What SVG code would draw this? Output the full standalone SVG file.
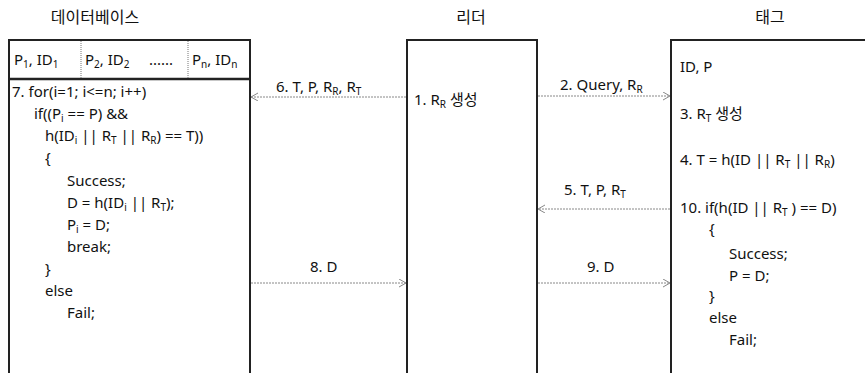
<svg xmlns="http://www.w3.org/2000/svg" width="865" height="373" viewBox="0 0 865 373">
<style>
text{font-family:"Noto Sans","Noto Sans CJK KR",sans-serif;font-size:15px;fill:#111}
.t{font-size:16px}
.box{fill:none;stroke:#222;stroke-width:2}
.sep{stroke:#777;stroke-width:1;stroke-dasharray:1 1}
.conn{stroke:#888;stroke-width:1;stroke-dasharray:2 1;fill:none;marker-end:url(#ah)}
.s{font-size:10px}
</style>
<defs>
<marker id="ah" markerWidth="9" markerHeight="9" refX="8" refY="4" orient="auto" markerUnits="userSpaceOnUse">
<path d="M1,0 L8,4 L1,8" fill="none" stroke="#888" stroke-width="1"/>
</marker>
</defs>
<rect width="865" height="373" fill="#fff"/>
<g id="db">
<text class="t" x="95" y="23" text-anchor="middle">데이터베이스</text>
<path class="box" d="M9,373 V40 H250 V373"/>
<line x1="9" y1="79" x2="250" y2="79" stroke="#222" stroke-width="2.5"/>
<line class="sep" x1="81" y1="41" x2="81" y2="78"/>
<line class="sep" x1="188" y1="41" x2="188" y2="78"/>
<text x="14" y="65">P<tspan class="s" dy="3">1</tspan><tspan dy="-3">, ID</tspan><tspan class="s" dy="3">1</tspan></text>
<text x="85" y="65">P<tspan class="s" dy="3">2</tspan><tspan dy="-3">, ID</tspan><tspan class="s" dy="3">2</tspan></text>
<text x="149" y="65">......</text>
<text x="192" y="65">P<tspan class="s" dy="3">n</tspan><tspan dy="-3">, ID</tspan><tspan class="s" dy="3">n</tspan></text>
<text x="12" y="97">7. for(i=1; i&lt;=n; i++)</text>
<text x="34" y="119">if((P<tspan class="s" dy="3">i</tspan><tspan dy="-3"> == P) &amp;&amp;</tspan></text>
<text x="45" y="141">h(ID<tspan class="s" dy="3">i</tspan><tspan dy="-3"> || R</tspan><tspan class="s" dy="3">T</tspan><tspan dy="-3"> || R</tspan><tspan class="s" dy="3">R</tspan><tspan dy="-3">) == T))</tspan></text>
<text x="45" y="163">{</text>
<text x="67" y="186">Success;</text>
<text x="67" y="208">D = h(ID<tspan class="s" dy="3">i</tspan><tspan dy="-3"> || R</tspan><tspan class="s" dy="3">T</tspan><tspan dy="-3">);</tspan></text>
<text x="67" y="230">P<tspan class="s" dy="3">i</tspan><tspan dy="-3"> = D;</tspan></text>
<text x="67" y="252">break;</text>
<text x="45" y="274">}</text>
<text x="45" y="296">else</text>
<text x="67" y="318">Fail;</text>
</g>
<g id="reader">
<text class="t" x="471" y="23" text-anchor="middle">리더</text>
<path class="box" d="M407,373 V40 H537 V373"/>
<text x="414" y="105">1. R<tspan class="s" dy="3">R</tspan><tspan dy="-3"> 생성</tspan></text>
</g>
<g id="tag">
<text class="t" x="770" y="23" text-anchor="middle">태그</text>
<path class="box" d="M671,373 V40 H866"/>
<text x="680" y="72">ID, P</text>
<text x="680" y="119">3. R<tspan class="s" dy="3">T</tspan><tspan dy="-3"> 생성</tspan></text>
<text x="680" y="165">4. T = h(ID || R<tspan class="s" dy="3">T</tspan><tspan dy="-3"> || R</tspan><tspan class="s" dy="3">R</tspan><tspan dy="-3">)</tspan></text>
<text x="680" y="213">10. if(h(ID || R<tspan class="s" dy="3">T</tspan><tspan dy="-3"> ) == D)</tspan></text>
<text x="709" y="234">{</text>
<text x="729" y="259">Success;</text>
<text x="729" y="281">P = D;</text>
<text x="709" y="301">}</text>
<text x="709" y="323">else</text>
<text x="729" y="345">Fail;</text>
</g>
<g id="connectors">
<line class="conn" x1="406" y1="97" x2="251" y2="97"/>
<text x="276" y="92">6. T, P, R<tspan class="s" dy="3">R</tspan><tspan dy="-3">, R</tspan><tspan class="s" dy="3">T</tspan></text>
<line class="conn" x1="538" y1="96" x2="670" y2="96"/>
<text x="560" y="90">2. Query, R<tspan class="s" dy="3">R</tspan></text>
<line class="conn" x1="670" y1="209" x2="538" y2="209"/>
<text x="564" y="195">5. T, P, R<tspan class="s" dy="3">T</tspan></text>
<line class="conn" x1="251" y1="283" x2="406" y2="283"/>
<text x="310" y="272">8. D</text>
<line class="conn" x1="538" y1="283" x2="670" y2="283"/>
<text x="587" y="272">9. D</text>
</g>
</svg>
